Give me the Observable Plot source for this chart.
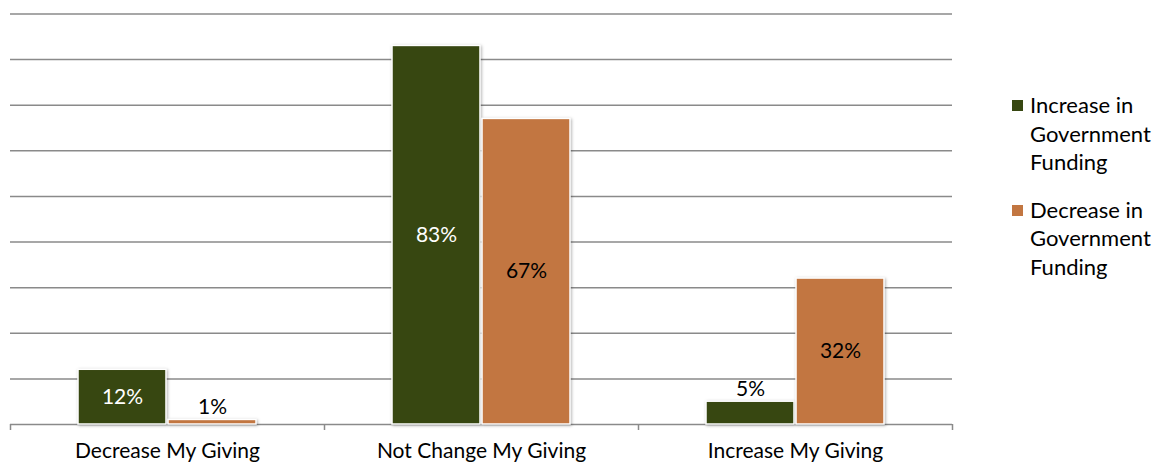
<!DOCTYPE html>
<html><head><meta charset="utf-8">
<script src="https://cdn.jsdelivr.net/npm/d3@7"></script>
<script src="https://cdn.jsdelivr.net/npm/@observablehq/plot@0.6"></script>
<style>
body{margin:0;background:#fff;}
#wrap{position:relative;width:1158px;height:468px;font-family:Lato,sans-serif;}
#legend{position:absolute;left:1012px;top:91px;width:146px;font-size:22px;line-height:28.5px;color:#000;}
.item{position:relative;padding-left:18px;margin-bottom:19px;}
.sw{position:absolute;left:0;top:9px;width:11px;height:11px;}
g[aria-label="bar"] rect{filter:drop-shadow(1px 1px 1.5px rgba(0,0,0,0.3));}
</style></head><body><div id="wrap"><div id="legend"></div></div>
<script>
const categories = ["Decrease My Giving", "Not Change My Giving", "Increase My Giving"];
const seriesNames = ["Increase in Government Funding", "Decrease in Government Funding"];
const increaseFunding = [0.12, 0.83, 0.05];
const decreaseFunding = [0.01, 0.67, 0.32];
const yTicks = [0, 0.1, 0.2, 0.3, 0.4, 0.5, 0.6, 0.7, 0.8, 0.9];
const colors = ["#374711", "#C27641"];
const insideColors = ["#ffffff", "#000000"];

const W = 1158, H = 468, mL = 10, mR = 206, mT = 13.5, mB = 44;
const pInner = 0.433, pOuter = pInner / 2;
const step = (W - mL - mR) / categories.length;
const band = step * (1 - pInner);
const half = band / 2;
const off = (half + 1) / 2;

const rows = [];
[increaseFunding, decreaseFunding].forEach((vals, s) =>
  vals.forEach((v, i) => rows.push({category: categories[i], series: s, value: v})));

const fmt = d => Math.round(d.value * 100) + "%";
const insideThreshold = 0.1;

const labelMarks = [0, 1].flatMap(s => [
  Plot.text(rows, {filter: d => d.series === s && d.value >= insideThreshold, x: "category", y: d => d.value / 2,
    text: fmt, dx: s === 0 ? -off : off, fill: insideColors[s]}),
  Plot.text(rows, {filter: d => d.series === s && d.value < insideThreshold, x: "category", y: "value",
    text: fmt, dx: s === 0 ? -off : off, dy: -6, lineAnchor: "bottom", fill: "#000"})
]);

const plot = Plot.plot({
  width: W, height: H,
  marginLeft: mL, marginRight: mR, marginTop: mT, marginBottom: mB,
  style: {fontFamily: "Lato, sans-serif", fontSize: "21px", color: "#000", background: "transparent"},
  x: {domain: categories, paddingInner: pInner, paddingOuter: pOuter, label: null},
  y: {domain: [0, 0.9], axis: null},
  marks: [
    Plot.ruleY(yTicks.slice(1), {stroke: "#8a8a8a", strokeWidth: 1.5}),
    Plot.ruleY([0], {stroke: "#8a8a8a", strokeWidth: 1.5}),
    Plot.ruleX(categories, {x: d => d, dx: -step / 2, stroke: "#8a8a8a", strokeWidth: 1.5, insetTop: H - mT - mB, insetBottom: -6}),
    Plot.ruleX(categories.slice(-1), {x: d => d, dx: step / 2, stroke: "#8a8a8a", strokeWidth: 1.5, insetTop: H - mT - mB, insetBottom: -6}),
    Plot.barY(rows, {filter: d => d.series === 0, x: "category", y: "value", fill: colors[0], stroke: "white", strokeWidth: 1.5, insetRight: half + 1}),
    Plot.barY(rows, {filter: d => d.series === 1, x: "category", y: "value", fill: colors[1], stroke: "white", strokeWidth: 1.5, insetLeft: half + 1}),
    ...labelMarks,
    Plot.axisX({tickSize: 0, tickPadding: 19, fontSize: 21})
  ]
});

document.getElementById("wrap").prepend(plot);

const legend = document.getElementById("legend");
seriesNames.forEach((name, i) => {
  const it = document.createElement("div");
  it.className = "item";
  const sw = document.createElement("div");
  sw.className = "sw";
  sw.style.background = colors[i];
  it.appendChild(sw);
  it.appendChild(document.createTextNode(name));
  legend.appendChild(it);
});
</script>
</body></html>
